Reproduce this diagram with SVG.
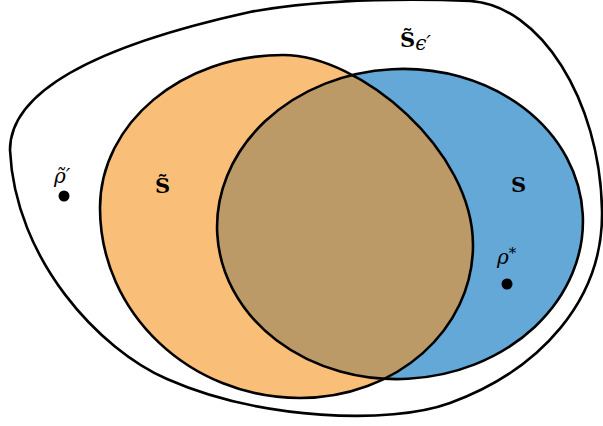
<svg xmlns="http://www.w3.org/2000/svg" width="603" height="426" viewBox="0 0 603 426">
<style>
.edge{fill:none;stroke:#000;stroke-width:2.6}
.lbl{font-family:"DejaVu Serif",serif;font-weight:bold;font-size:21px;fill:#000}
.it{font-family:"DejaVu Serif",serif;font-style:italic;font-size:20px;fill:#000}
</style>
<defs>
<path id="orangeShape" d="M100,208 C100,123 182,55 283,55 C360,55 473,150 473,245 C473,330 396,398 300,398 C190,398 100,313 100,208 Z"/>
<ellipse id="blueShape" cx="400" cy="224" rx="183" ry="155" transform="rotate(-3 400 224)"/>
<clipPath id="clipOrange"><use href="#orangeShape"/></clipPath>
</defs>
<g id="outer">
<path class="edge" d="M10,150 C10,90 100,45 250,12 C330,-3 430,-1 470,1 C540,5 600,100 602,210 C604,300 540,370 450,403 C390,425 260,420 167,379 C100,350 15,260 10,150 Z"/>
<text class="lbl" x="400" y="47">S̃<tspan class="it" font-weight="normal" font-size="14" dy="3">ϵ′</tspan></text>
</g>
<g id="setStilde">
<use href="#orangeShape" fill="#f9be78"/>
</g>
<g id="setS">
<use href="#blueShape" fill="#63a8d6"/>
<use href="#blueShape" fill="#bb9a68" clip-path="url(#clipOrange)"/>
</g>
<g id="outlines">
<use href="#orangeShape" class="edge"/>
<use href="#blueShape" class="edge"/>
</g>
<g id="labelStilde">
<text class="lbl" x="155" y="193">S̃</text>
</g>
<g id="labelS">
<text class="lbl" x="511" y="192">S</text>
</g>
<g id="rhoPrime">
<text class="it" x="54" y="183">ρ̃′</text>
<circle cx="64" cy="196" r="5.5" fill="#000"/>
</g>
<g id="rhoStar">
<text class="it" x="497" y="264">ρ<tspan font-size="15" dy="-6">*</tspan></text>
<circle cx="507" cy="284" r="5.5" fill="#000"/>
</g>
</svg>
